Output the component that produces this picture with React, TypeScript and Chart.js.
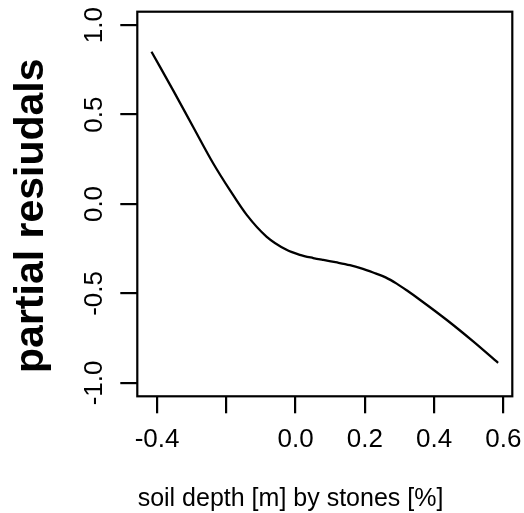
import React, { useEffect, useRef } from 'react';
import { Chart, registerables } from 'chart.js';

Chart.register(...registerables);

const depthX = [-0.416, -0.353, -0.296, -0.238, -0.19, -0.141, -0.084, -0.026, 0.012, 0.051, 0.08, 0.12, 0.157, 0.19, 0.224, 0.26, 0.292, 0.325, 0.359, 0.436, 0.513, 0.585];
const residY = [0.851, 0.634, 0.432, 0.228, 0.079, -0.061, -0.182, -0.256, -0.284, -0.302, -0.313, -0.327, -0.342, -0.36, -0.383, -0.41, -0.445, -0.488, -0.535, -0.647, -0.768, -0.888];

const xTickValues = [-0.4, -0.2, 0, 0.2, 0.4, 0.6];
const xTickLabels = ['-0.4', '', '0.0', '0.2', '0.4', '0.6'];
const yTickValues = [-1, -0.5, 0, 0.5, 1];
const yTickLabels = ['-1.0', '-0.5', '0.0', '0.5', '1.0'];

const xTitle = 'soil depth [m] by stones [%]';
const yTitle = 'partial resiudals';

const FONT = "'Liberation Sans', Arial, Helvetica, sans-serif";

export default function App() {
  const ref = useRef<HTMLCanvasElement | null>(null);

  useEffect(() => {
    if (!ref.current) return;
    const framePlugin = {
      id: 'frameTitles',
      afterDraw(chart: any) {
        const { ctx, chartArea: a } = chart;
        ctx.save();
        ctx.strokeStyle = '#000';
        ctx.lineWidth = 2.2;
        ctx.strokeRect(a.left, a.top, a.right - a.left, a.bottom - a.top);
        ctx.fillStyle = '#000';
        ctx.font = `25px ${FONT}`;
        ctx.textAlign = 'center';
        ctx.textBaseline = 'alphabetic';
        ctx.fillText(xTitle, 290.5, 506);
        ctx.translate(43.3, 215.7);
        ctx.rotate(-Math.PI / 2);
        ctx.font = `bold 41px ${FONT}`;
        ctx.fillText(yTitle, 0, 0);
        ctx.restore();
      },
    };

    const chart = new Chart(ref.current, {
      type: 'line',
      data: {
        datasets: [
          {
            data: depthX.map((x, i) => ({ x, y: residY[i] })),
            borderColor: '#000',
            borderWidth: 2.3,
            pointRadius: 0,
            fill: false,
            cubicInterpolationMode: 'monotone',
          },
        ],
      },
      options: {
        responsive: false,
        animation: false,
        events: [],
        layout: { padding: { left: 0, right: 11.7, top: 11.7, bottom: 0 } },
        plugins: { legend: { display: false }, tooltip: { enabled: false } },
        scales: {
          x: {
            type: 'linear',
            min: -0.457,
            max: 0.626,
            afterBuildTicks: (s: any) => {
              s.ticks = xTickValues.map((v) => ({ value: v }));
            },
            afterFit: (s: any) => {
              s.height = 116.7;
              s.paddingLeft = 0;
              s.paddingRight = 0;
            },
            ticks: {
              callback: (v: any) => xTickLabels[xTickValues.indexOf(Number(v))] ?? '',
              font: { size: 26, family: FONT },
              color: '#000',
              padding: 11,
              minRotation: 0,
              maxRotation: 0,
              autoSkip: false,
            },
            grid: { drawOnChartArea: false, drawTicks: true, tickLength: 17, color: '#000', lineWidth: 2.2 },
            border: { display: false },
          },
          y: {
            type: 'linear',
            min: -1.075,
            max: 1.075,
            afterBuildTicks: (s: any) => {
              s.ticks = yTickValues.map((v) => ({ value: v }));
            },
            afterFit: (s: any) => {
              s.width = 137.3;
              s.paddingTop = 0;
              s.paddingBottom = 0;
            },
            ticks: {
              callback: (v: any) => yTickLabels[yTickValues.indexOf(Number(v))] ?? '',
              font: { size: 26, family: FONT },
              color: '#000',
              padding: 3,
              minRotation: 90,
              maxRotation: 90,
              crossAlign: 'center',
              autoSkip: false,
            },
            grid: { drawOnChartArea: false, drawTicks: true, tickLength: 17, color: '#000', lineWidth: 2.2 },
            border: { display: false },
          },
        },
      },
      plugins: [framePlugin],
    } as any);
    return () => chart.destroy();
  }, []);

  return (
    <div style={{ position: 'fixed', left: 0, top: 0, width: 524, height: 513, background: '#fff' }}>
      <canvas ref={ref} width={524} height={513} style={{ width: 524, height: 513, display: 'block' }} />
    </div>
  );
}
